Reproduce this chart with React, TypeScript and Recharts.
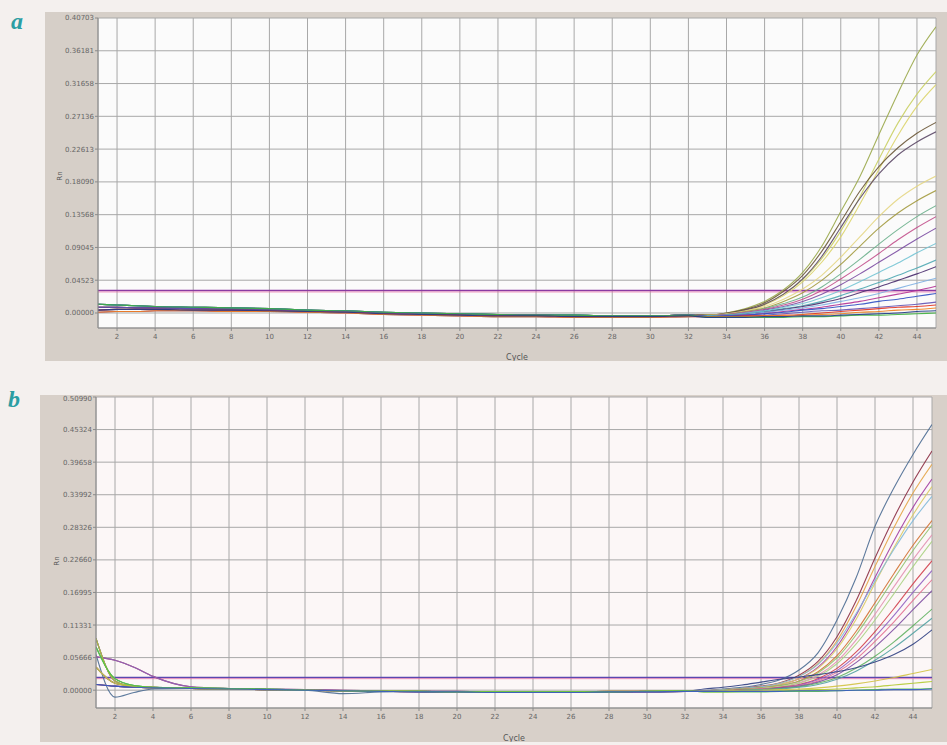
import { LineChart, Line, XAxis, YAxis, CartesianGrid, ReferenceLine } from "recharts";

// cycles where values were read (sparse on the flat baseline, every cycle in the rise)
const cycles = [1, 2, 3, 4, 6, 8, 10, 12, 14, 16, 18, 20, 22, 24, 26, 28, 30, 32, 33, 34, 35, 36, 37, 38, 39, 40, 41, 42, 43, 44, 45];
const earlyCount = 18; // cycles 1..32 come from the baseline lists, 33..45 from the rise lists

const xTicks = [2, 4, 6, 8, 10, 12, 14, 16, 18, 20, 22, 24, 26, 28, 30, 32, 34, 36, 38, 40, 42, 44];
const yTicksA = [0, 0.04523, 0.09045, 0.13568, 0.1809, 0.22613, 0.27136, 0.31658, 0.36181, 0.40703];
const yTicksB = [0, 0.05666, 0.11331, 0.16995, 0.2266, 0.28326, 0.33992, 0.39658, 0.45324, 0.5099];

const thresholdA = 0.031;
const thresholdB = 0.022;

// panel a: baseline shapes, cycles 1..32
const baseA = [
  [0.012, 0.011, 0.01, 0.009, 0.008, 0.007, 0.006, 0.004, 0.003, 0.001, 0.0, -0.001, -0.002, -0.003, -0.003, -0.004, -0.004, -0.003],
  [0.008, 0.008, 0.007, 0.007, 0.006, 0.005, 0.004, 0.003, 0.002, 0.0, -0.001, -0.002, -0.003, -0.003, -0.004, -0.004, -0.004, -0.003],
  [0.004, 0.005, 0.005, 0.005, 0.004, 0.004, 0.003, 0.002, 0.001, -0.001, -0.002, -0.003, -0.004, -0.004, -0.005, -0.005, -0.005, -0.004],
  [0.001, 0.002, 0.002, 0.003, 0.003, 0.002, 0.002, 0.001, 0.0, -0.002, -0.003, -0.004, -0.005, -0.005, -0.006, -0.006, -0.006, -0.005],
];

// panel a: amplification, cycles 33..45
const riseA = [
  [-0.003, 0.0, 0.006, 0.016, 0.032, 0.056, 0.092, 0.14, 0.188, 0.246, 0.303, 0.356, 0.395],
  [-0.003, -0.001, 0.004, 0.012, 0.026, 0.046, 0.075, 0.113, 0.16, 0.212, 0.262, 0.302, 0.333],
  [-0.003, -0.001, 0.003, 0.011, 0.024, 0.043, 0.07, 0.105, 0.15, 0.198, 0.245, 0.285, 0.315],
  [-0.003, 0.0, 0.005, 0.014, 0.03, 0.052, 0.085, 0.126, 0.168, 0.202, 0.228, 0.248, 0.263],
  [-0.003, -0.001, 0.004, 0.012, 0.026, 0.047, 0.078, 0.118, 0.158, 0.192, 0.218, 0.236, 0.25],
  [-0.003, -0.001, 0.003, 0.009, 0.019, 0.033, 0.052, 0.077, 0.105, 0.133, 0.157, 0.175, 0.189],
  [-0.003, -0.002, 0.002, 0.007, 0.016, 0.028, 0.045, 0.067, 0.092, 0.117, 0.138, 0.155, 0.169],
  [-0.004, -0.002, 0.001, 0.006, 0.013, 0.022, 0.036, 0.054, 0.074, 0.095, 0.115, 0.133, 0.148],
  [-0.004, -0.002, 0.001, 0.005, 0.011, 0.019, 0.031, 0.047, 0.064, 0.082, 0.101, 0.118, 0.133],
  [-0.004, -0.003, 0.0, 0.004, 0.009, 0.016, 0.026, 0.039, 0.054, 0.07, 0.086, 0.102, 0.117],
  [-0.004, -0.003, 0.0, 0.003, 0.008, 0.013, 0.021, 0.031, 0.043, 0.056, 0.069, 0.083, 0.096],
  [-0.004, -0.003, -0.001, 0.002, 0.006, 0.01, 0.016, 0.024, 0.033, 0.042, 0.052, 0.062, 0.073],
  [-0.005, -0.004, -0.002, 0.001, 0.005, 0.009, 0.014, 0.02, 0.028, 0.036, 0.045, 0.054, 0.064],
  [-0.005, -0.004, -0.002, 0.001, 0.004, 0.007, 0.011, 0.016, 0.021, 0.027, 0.034, 0.041, 0.048],
  [-0.005, -0.004, -0.003, -0.001, 0.002, 0.005, 0.008, 0.012, 0.016, 0.021, 0.026, 0.031, 0.037],
  [-0.005, -0.004, -0.003, -0.001, 0.001, 0.004, 0.006, 0.009, 0.012, 0.016, 0.019, 0.023, 0.027],
  [-0.005, -0.005, -0.004, -0.003, -0.001, 0.001, 0.003, 0.004, 0.006, 0.008, 0.01, 0.012, 0.015],
  [-0.005, -0.005, -0.004, -0.004, -0.003, -0.002, 0.0, 0.002, 0.004, 0.006, 0.008, 0.009, 0.011],
  [-0.005, -0.005, -0.005, -0.004, -0.004, -0.003, -0.002, -0.001, 0.001, 0.002, 0.004, 0.005, 0.007],
  [-0.006, -0.006, -0.006, -0.006, -0.006, -0.005, -0.005, -0.004, -0.003, -0.003, -0.002, -0.001, 0.0],
  [-0.006, -0.006, -0.006, -0.005, -0.005, -0.004, -0.004, -0.003, -0.002, -0.001, 0.0, 0.002, 0.003],
];
const baseIdxA = [0, 1, 2, 0, 1, 3, 2, 0, 1, 2, 3, 0, 1, 2, 3, 0, 1, 2, 3, 0, 2];

// panel b: baseline shapes, cycles 1..32
const baseB = [
  [0.058, 0.052, 0.04, 0.024, 0.006, 0.003, 0.002, 0.001, 0.0, -0.001, -0.002, -0.002, -0.003, -0.003, -0.003, -0.003, -0.002, -0.001],
  [0.09, 0.016, 0.006, 0.004, 0.003, 0.002, 0.001, 0.0, -0.001, -0.001, -0.002, -0.003, -0.003, -0.004, -0.003, -0.003, -0.002, -0.001],
  [0.062, -0.012, -0.004, 0.002, 0.003, 0.002, 0.001, 0.0, -0.006, -0.003, -0.002, -0.003, -0.004, -0.004, -0.003, -0.003, -0.002, -0.002],
  [0.04, 0.012, 0.007, 0.005, 0.003, 0.002, 0.001, 0.0, -0.001, -0.002, -0.002, -0.003, -0.003, -0.003, -0.003, -0.002, -0.002, -0.001],
  [0.01, 0.007, 0.005, 0.004, 0.003, 0.002, 0.001, 0.0, -0.001, -0.002, -0.003, -0.003, -0.004, -0.004, -0.004, -0.003, -0.003, -0.002],
  [0.075, 0.02, 0.008, 0.005, 0.004, 0.003, 0.002, 0.0, -0.001, -0.002, -0.002, -0.003, -0.003, -0.003, -0.003, -0.003, -0.002, -0.001],
];

// panel b: amplification, cycles 33..45
const riseB = [
  [-0.001, 0.002, 0.005, 0.01, 0.018, 0.035, 0.065, 0.122, 0.195, 0.285, 0.352, 0.41, 0.462],
  [-0.001, 0.001, 0.003, 0.007, 0.013, 0.026, 0.05, 0.093, 0.155, 0.23, 0.3, 0.362, 0.416],
  [-0.001, 0.001, 0.003, 0.006, 0.012, 0.024, 0.046, 0.086, 0.145, 0.215, 0.283, 0.343, 0.393],
  [-0.001, 0.0, 0.002, 0.005, 0.01, 0.02, 0.04, 0.076, 0.13, 0.196, 0.26, 0.318, 0.367],
  [-0.001, 0.0, 0.002, 0.005, 0.01, 0.02, 0.038, 0.072, 0.123, 0.186, 0.248, 0.305, 0.354],
  [-0.001, 0.001, 0.003, 0.006, 0.012, 0.024, 0.045, 0.082, 0.133, 0.19, 0.245, 0.295, 0.337],
  [-0.002, 0.0, 0.002, 0.004, 0.008, 0.016, 0.032, 0.06, 0.102, 0.152, 0.203, 0.252, 0.295],
  [-0.002, 0.0, 0.002, 0.004, 0.008, 0.015, 0.03, 0.056, 0.096, 0.144, 0.194, 0.243, 0.287],
  [-0.002, -0.001, 0.001, 0.003, 0.006, 0.013, 0.026, 0.05, 0.087, 0.132, 0.18, 0.227, 0.27],
  [-0.002, -0.001, 0.001, 0.003, 0.006, 0.012, 0.024, 0.046, 0.08, 0.122, 0.168, 0.215, 0.259],
  [-0.002, -0.001, 0.001, 0.002, 0.005, 0.01, 0.02, 0.038, 0.066, 0.102, 0.142, 0.185, 0.225],
  [-0.002, -0.001, 0.0, 0.002, 0.004, 0.009, 0.018, 0.034, 0.06, 0.093, 0.13, 0.17, 0.208],
  [-0.002, -0.001, 0.0, 0.002, 0.004, 0.008, 0.016, 0.031, 0.054, 0.085, 0.119, 0.156, 0.192],
  [-0.002, -0.001, 0.0, 0.001, 0.004, 0.007, 0.014, 0.027, 0.048, 0.075, 0.106, 0.14, 0.173],
  [-0.002, -0.001, 0.0, 0.001, 0.003, 0.006, 0.012, 0.022, 0.038, 0.059, 0.084, 0.112, 0.141],
  [-0.002, -0.001, 0.0, 0.001, 0.002, 0.005, 0.01, 0.019, 0.033, 0.052, 0.074, 0.099, 0.125],
  [0.002, 0.005, 0.009, 0.014, 0.019, 0.023, 0.027, 0.032, 0.039, 0.049, 0.062, 0.08, 0.105],
  [-0.002, -0.001, 0.0, 0.0, 0.001, 0.002, 0.004, 0.007, 0.011, 0.016, 0.022, 0.029, 0.036],
  [-0.003, -0.003, -0.002, -0.002, -0.001, 0.0, 0.001, 0.002, 0.004, 0.006, 0.009, 0.012, 0.015],
  [-0.003, -0.003, -0.003, -0.003, -0.002, -0.002, -0.002, -0.001, 0.0, 0.001, 0.002, 0.002, 0.003],
  [-0.002, -0.002, -0.002, -0.002, -0.002, -0.001, -0.001, -0.001, 0.0, 0.0, 0.001, 0.001, 0.002],
];
const baseIdxB = [2, 0, 3, 1, 4, 5, 3, 1, 4, 5, 3, 0, 4, 1, 5, 3, 4, 3, 1, 5, 4];

const colorsA = [
  "#9aa84a", "#c9cf62", "#dcd46a", "#6a5636", "#5b4766", "#e4d684", "#a39a3e",
  "#6bb08c", "#c2508c", "#7b4ba2", "#74c4d4", "#4fa8b2", "#4a2e6e", "#7fb0e2",
  "#b23092", "#2f4fc2", "#6252b2", "#e2321f", "#f0821e", "#3fb23f", "#203a88",
];
const colorsB = [
  "#4b6b92", "#8c2f44", "#e3a446", "#a23ea2", "#d9ca62", "#82bada", "#d27232",
  "#8fc26e", "#e292b2", "#aad282", "#d2404e", "#9262c2", "#e27292", "#7e4ea2",
  "#62b262", "#52a2a2", "#2f3f82", "#d2c242", "#b2ca32", "#52c242", "#3a58c8",
];

function buildTable(bases: number[][], baseIdx: number[], rises: number[][]) {
  return cycles.map((c, i) => {
    const row: Record<string, number> = { cycle: c };
    rises.forEach((r, k) => {
      row["s" + k] = i < earlyCount ? bases[baseIdx[k]][i] : r[i - earlyCount];
    });
    return row;
  });
}

const tableA = buildTable(baseA, baseIdxA, riseA);
const tableB = buildTable(baseB, baseIdxB, riseB);

const tickStyle = { fontSize: 7, fill: "#666", fontFamily: "DejaVu Sans" };

function Panel(props: {
  data: Record<string, number>[];
  colors: string[];
  width: number;
  height: number;
  margin: { top: number; right: number; bottom: number; left: number };
  yWidth: number;
  xHeight: number;
  domain: [number, number];
  yTicks: number[];
  threshold: number;
  thresholdColor: string;
  plotFill: string;
}) {
  const { data, colors } = props;
  return (
    <LineChart width={props.width} height={props.height} data={data} margin={props.margin}>
      <CartesianGrid stroke="#a8a8a8" fill={props.plotFill} fillOpacity={1} />
      <XAxis
        type="number"
        dataKey="cycle"
        domain={[1, 45]}
        ticks={xTicks}
        allowDataOverflow
        height={props.xHeight}
        tick={tickStyle}
        tickSize={3}
        tickMargin={3}
        stroke="#8a8a8a"
        label={{ value: "Cycle", position: "insideBottom", offset: 1, fontSize: 8, fill: "#555", fontFamily: "DejaVu Sans" }}
      />
      <YAxis
        type="number"
        domain={props.domain}
        ticks={props.yTicks}
        allowDataOverflow
        width={props.yWidth}
        tick={tickStyle}
        tickSize={3}
        tickMargin={1}
        stroke="#8a8a8a"
        tickFormatter={(v: number) => v.toFixed(5)}
      />
      <ReferenceLine y={props.threshold} stroke={props.thresholdColor} strokeWidth={1.4} />
      <ReferenceLine y={props.threshold - 0.002} stroke="#ee6fa6" strokeWidth={1} strokeOpacity={0.7} />
      {colors.map((c, k) => (
        <Line
          key={k}
          dataKey={"s" + k}
          stroke={c}
          strokeWidth={1.1}
          strokeOpacity={0.9}
          dot={false}
          type="monotone"
          isAnimationActive={false}
        />
      ))}
    </LineChart>
  );
}

export default function App() {
  const panelLabel = {
    position: "absolute" as const,
    fontFamily: "Liberation Serif",
    fontStyle: "italic",
    fontWeight: 700,
    fontSize: 24,
    color: "#2b9ea3",
  };
  const rn = {
    position: "absolute" as const,
    fontSize: 7,
    color: "#555",
    fontFamily: "DejaVu Sans",
    transform: "rotate(-90deg)",
  };
  return (
    <div
      style={{
        position: "absolute",
        left: 0,
        top: 0,
        width: 947,
        height: 745,
        overflow: "hidden",
        background: "#f4f0ee",
      }}
    >
      <div style={{ ...panelLabel, left: 11, top: 8 }}>a</div>
      <div style={{ position: "absolute", left: 45, top: 12, width: 902, height: 349, background: "#d6cfc8" }}>
        <Panel
          data={tableA}
          colors={colorsA}
          width={902}
          height={349}
          margin={{ top: 6, right: 11, bottom: 0, left: 0 }}
          yWidth={53}
          xHeight={33}
          domain={[-0.0207, 0.40703]}
          yTicks={yTicksA}
          threshold={thresholdA}
          thresholdColor="#8a3aa2"
          plotFill="#fbfbfb"
        />
      </div>
      <div style={{ ...rn, left: 55, top: 172 }}>Rn</div>

      <div style={{ ...panelLabel, left: 8, top: 386 }}>b</div>
      <div style={{ position: "absolute", left: 40, top: 395, width: 907, height: 347, background: "#d8d0c9" }}>
        <Panel
          data={tableB}
          colors={colorsB}
          width={907}
          height={347}
          margin={{ top: 2, right: 15, bottom: 0, left: 0 }}
          yWidth={56}
          xHeight={34}
          domain={[-0.031, 0.5099]}
          yTicks={yTicksB}
          threshold={thresholdB}
          thresholdColor="#5a48b0"
          plotFill="#fcf7f7"
        />
      </div>
      <div style={{ ...rn, left: 52, top: 557 }}>Rn</div>
    </div>
  );
}
